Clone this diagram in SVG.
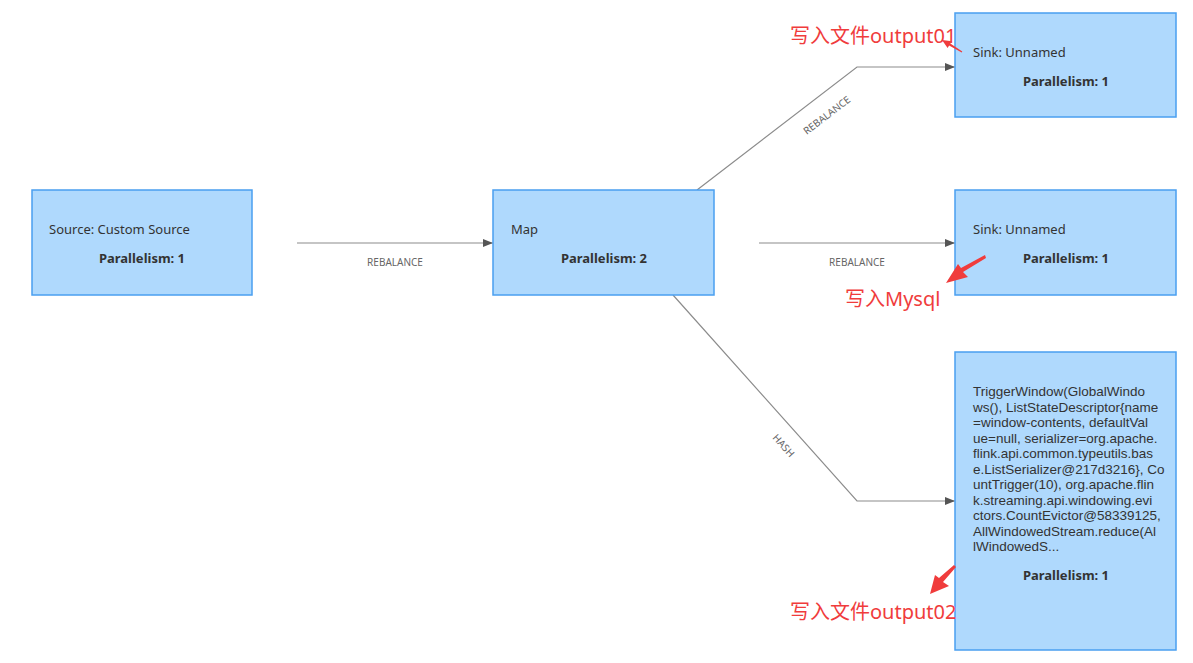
<svg xmlns="http://www.w3.org/2000/svg" width="1193" height="663" viewBox="0 0 1193 663">
<style>
.node rect{fill:#afd9fd;stroke:#4a9ff0;stroke-width:1.5}
.t{font-family:"Noto Sans","Open Sans",sans-serif;font-size:13px;fill:#333}
.w{font-family:"Liberation Sans",Arial,sans-serif;font-size:13.5px;fill:#333}
.b{font-weight:bold;text-anchor:middle}
.edge{fill:none;stroke:#8c8c8c;stroke-width:1.2}
.el{font-family:"Noto Sans","Open Sans",sans-serif;font-size:10px;fill:#666;text-anchor:middle}
.red{font-family:"Noto Sans","Noto Sans CJK SC",sans-serif;font-size:20px;fill:#f03c3c}
.ra{fill:#f03c3c}
</style>
<defs>
<marker id="arr" viewBox="0 0 10 8" refX="10" refY="4" markerWidth="10" markerHeight="8" markerUnits="userSpaceOnUse" orient="auto">
<path d="M0,0 L10,4 L0,8 Z" fill="#555"/>
</marker>
</defs>
<rect width="1193" height="663" fill="#fff"/>
<g id="connectors">
<path class="edge" d="M297,243 H493" marker-end="url(#arr)"/>
<text class="el" x="395" y="266">REBALANCE</text>
<path class="edge" d="M759,243 H955" marker-end="url(#arr)"/>
<text class="el" x="857" y="266">REBALANCE</text>
<path class="edge" d="M697,190 L857,67 H955" marker-end="url(#arr)"/>
<text class="el" transform="translate(829,118) rotate(-37.5)">REBALANCE</text>
<path class="edge" d="M673,295 L857,501 H955" marker-end="url(#arr)"/>
<text class="el" transform="translate(781,448) rotate(48)">HASH</text>
</g>
<g id="source" class="node">
<rect x="32" y="190" width="220" height="105"/>
<text class="t" x="49" y="234">Source: Custom Source</text>
<text class="t b" x="142" y="263">Parallelism: 1</text>
</g>
<g id="map" class="node">
<rect x="493" y="190" width="221" height="105"/>
<text class="t" x="511" y="234">Map</text>
<text class="t b" x="604" y="263">Parallelism: 2</text>
</g>
<g id="sink1" class="node">
<rect x="955" y="13" width="221" height="104"/>
<text class="t" x="973" y="57">Sink: Unnamed</text>
<text class="t b" x="1066" y="86">Parallelism: 1</text>
</g>
<g id="sink2" class="node">
<rect x="955" y="190" width="221" height="105"/>
<text class="t" x="973" y="234">Sink: Unnamed</text>
<text class="t b" x="1066" y="263">Parallelism: 1</text>
</g>
<g id="window" class="node">
<rect x="955" y="352" width="221" height="298"/>
<text class="w" x="973" y="396">TriggerWindow(GlobalWindo</text>
<text class="w" x="973" y="411.5">ws(), ListStateDescriptor{name</text>
<text class="w" x="973" y="427">=window-contents, defaultVal</text>
<text class="w" x="973" y="442.5">ue=null, serializer=org.apache.</text>
<text class="w" x="973" y="458">flink.api.common.typeutils.bas</text>
<text class="w" x="973" y="473.5">e.ListSerializer@217d3216}, Co</text>
<text class="w" x="973" y="489">untTrigger(10), org.apache.flin</text>
<text class="w" x="973" y="504.5">k.streaming.api.windowing.evi</text>
<text class="w" x="973" y="520">ctors.CountEvictor@58339125,</text>
<text class="w" x="973" y="535.5">AllWindowedStream.reduce(Al</text>
<text class="w" x="973" y="551">lWindowedS...</text>
<text class="t b" x="1066" y="580">Parallelism: 1</text>
</g>
<g id="annotations">
<text class="red" x="790" y="43">写入文件output01</text>
<polygon class="ra" points="962.3,51.6 950.3,43.6 951.8,41.2 942,40 947.6,48 949.1,45.6 961.7,52.4"/>
<text class="red" x="845" y="306">写入Mysql</text>
<polygon class="ra" points="985,255 961,268 958,264 946,283 968,277 963,272 986,258"/>
<text class="red" x="790" y="619">写入文件output02</text>
<polygon class="ra" points="954,565 939,578 935,575 930,594 949,586 943,582 956,567"/>
</g>
</svg>
